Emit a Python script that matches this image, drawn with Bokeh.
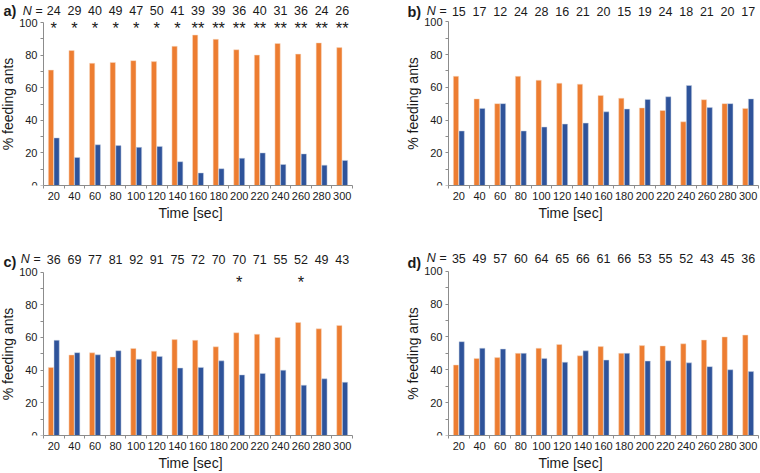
from bokeh.plotting import figure
from bokeh.models import ColumnDataSource, FixedTicker, Range1d
from bokeh.layouts import row, column
from bokeh.transform import dodge
from bokeh.core.properties import value
from bokeh.embed import file_html
from bokeh.resources import INLINE

# ---------------- data ----------------
times = [20, 40, 60, 80, 100, 120, 140, 160, 180, 200, 220, 240, 260, 280, 300]

a_n = [24, 29, 40, 49, 47, 50, 41, 39, 39, 36, 40, 31, 36, 24, 26]
a_orange = [70.8, 82.8, 75.0, 75.5, 76.6, 76.0, 85.4, 92.3, 89.7, 83.3, 80.0, 87.1, 80.6, 87.5, 84.6]
a_blue = [29.2, 17.2, 25.0, 24.5, 23.4, 24.0, 14.6, 7.7, 10.3, 16.7, 20.0, 12.9, 19.4, 12.5, 15.4]
a_stars = ["*", "*", "*", "*", "*", "*", "*", "**", "**", "**", "**", "**", "**", "**", "**"]

b_n = [15, 17, 12, 24, 28, 16, 21, 20, 15, 19, 24, 18, 21, 20, 17]
b_orange = [66.7, 52.9, 50.0, 66.7, 64.3, 62.5, 61.9, 55.0, 53.3, 47.4, 45.8, 38.9, 52.4, 50.0, 47.1]
b_blue = [33.3, 47.1, 50.0, 33.3, 35.7, 37.5, 38.1, 45.0, 46.7, 52.6, 54.2, 61.1, 47.6, 50.0, 52.9]
b_stars = [""] * 15

c_n = [36, 69, 77, 81, 92, 91, 75, 72, 70, 70, 71, 55, 52, 49, 43]
c_orange = [41.7, 49.3, 50.6, 48.1, 53.3, 51.6, 58.7, 58.3, 54.3, 62.9, 62.0, 60.0, 69.2, 65.3, 67.4]
c_blue = [58.3, 50.7, 49.4, 51.9, 46.7, 48.4, 41.3, 41.7, 45.7, 37.1, 38.0, 40.0, 30.8, 34.7, 32.6]
c_stars = ["", "", "", "", "", "", "", "", "", "*", "", "", "*", "", ""]

d_n = [35, 49, 57, 60, 64, 65, 66, 61, 66, 53, 55, 52, 43, 45, 36]
d_orange = [42.9, 46.9, 47.4, 50.0, 53.1, 55.4, 48.5, 54.1, 50.0, 54.7, 54.5, 55.8, 58.1, 60.0, 61.1]
d_blue = [57.1, 53.1, 52.6, 50.0, 46.9, 44.6, 51.5, 45.9, 50.0, 45.3, 45.5, 44.2, 41.9, 40.0, 38.9]
d_stars = [""] * 15

y_ticks = [0, 20, 40, 60, 80, 100]
y_minor = [10, 30, 50, 70, 90]

ORANGE = "#ED7D31"
BLUE = "#2E539A"
AXIS_C = "#8c8c8c"
TXT_C = "#1a1a1a"
FONT = "Liberation Sans"
STEP = 20


def panel(tag, n, orange, blue, stars, width, height, geo):
    # geo: pixel layout inside this figure (positions only)
    fl, fr = geo["frame_left"], geo["frame_right"]      # px of the 10 / 310 edges
    fb, p100 = geo["frame_bottom"], geo["y100"]        # px of value 0 and 100
    lo, hi = times[0] - STEP / 2, times[-1] + STEP / 2
    sx = (fr - fl) / (hi - lo)
    sy = (fb - p100) / 100.0
    x0 = lo - fl / sx
    x1 = hi + (width - fr) / sx
    y1 = fb / sy

    def dx(px):
        return x0 + px / sx

    def dy(py):
        return (fb - py) / sy

    src = ColumnDataSource(dict(t=times, orange=orange, blue=blue,
                                n=[str(v) for v in n], stars=stars,
                                ny=[dy(geo["n_row"])] * len(times),
                                sy=[dy(geo["star_row"])] * len(times)))

    p = figure(width=width, height=height, output_backend="svg",
               toolbar_location=None,
               x_range=Range1d(x0, x1), y_range=Range1d(0, y1),
               min_border_left=0, min_border_right=0,
               min_border_top=0, min_border_bottom=height - fb)
    p.outline_line_color = None
    p.xgrid.visible = False
    p.ygrid.visible = False

    p.vbar(x=dodge("t", -2.75), top="orange", width=5.1, source=src,
           fill_color=ORANGE, line_color="#f6dcc8", line_width=0.5)
    p.vbar(x=dodge("t", 2.75), top="blue", width=5.1, source=src,
           fill_color=BLUE, line_color="#c9d2e3", line_width=0.5)

    p.text(x="t", y="ny", text="n", source=src, text_align="center",
           text_baseline="middle", text_font=value(FONT),
           text_font_size=value("12.5px"), text_color=TXT_C)
    p.text(x="t", y="sy", text="stars", source=src, text_align="center",
           text_baseline="middle", text_font=value(FONT),
           text_font_size=value("16.5px"), text_color=TXT_C)
    # panel tag (bold) and "N =" (italic)
    p.text(x=[dx(geo["tag_x"])], y=[dy(geo["tag_y"])], text=[tag + ")"],
           text_align="left", text_baseline="middle", text_font=value(FONT),
           text_font_size=value("14.5px"), text_font_style="bold", text_color=TXT_C)
    p.text(x=[dx(geo["neq_x"])], y=[dy(geo["n_row"])], text=["N ="],
           text_align="right", text_baseline="middle", text_font=value(FONT),
           text_font_size=value("12.5px"), text_font_style="italic", text_color=TXT_C)

    xa = p.xaxis[0]
    xa.ticker = FixedTicker(ticks=times,
                            minor_ticks=[t - STEP / 2 for t in times] + [times[-1] + STEP / 2])
    xa.bounds = (lo, hi)
    xa.major_tick_out = 0
    xa.major_tick_in = 0
    xa.minor_tick_out = 3
    xa.minor_tick_in = 0
    xa.major_label_standoff = 3
    xa.axis_label = "Time [sec]"
    xa.axis_label_standoff = 2

    ya = p.yaxis[0]
    ya.fixed_location = lo
    ya.ticker = FixedTicker(ticks=y_ticks, minor_ticks=y_minor)
    ya.bounds = (0, 100)
    ya.major_tick_out = 3
    ya.major_tick_in = 0
    ya.minor_tick_out = 3
    ya.minor_tick_in = 0
    ya.major_label_standoff = 3
    ya.axis_label = "% feeding ants"
    ya.axis_label_standoff = 0

    for ax in (xa, ya):
        ax.axis_line_color = AXIS_C
        ax.major_tick_line_color = AXIS_C
        ax.minor_tick_line_color = AXIS_C
        ax.major_label_text_font = FONT
        ax.major_label_text_font_size = "11px"
        ax.major_label_text_color = TXT_C
        ax.axis_label_text_font = FONT
        ax.axis_label_text_font_style = "normal"
        ax.axis_label_text_color = TXT_C
    xa.axis_label_text_font_size = "14px"
    ya.axis_label_text_font_size = "14px"
    return p


geo_a = dict(frame_left=43, frame_right=352, frame_bottom=185, y100=22,
             n_row=10, star_row=27.7, tag_x=3, tag_y=10.5, neq_x=42)
geo_b = dict(frame_left=68, frame_right=378, frame_bottom=187, y100=21.5,
             n_row=11, star_row=-50, tag_x=27, tag_y=11.5, neq_x=66)
geo_c = dict(frame_left=43, frame_right=352, frame_bottom=201, y100=36,
             n_row=23, star_row=45.5, tag_x=3, tag_y=26, neq_x=40)
geo_d = dict(frame_left=68, frame_right=378, frame_bottom=201, y100=35,
             n_row=22, star_row=-50, tag_x=27, tag_y=27, neq_x=66)

pa = panel("a", a_n, a_orange, a_blue, a_stars, 380, 236, geo_a)
pb = panel("b", b_n, b_orange, b_blue, b_stars, 380, 236, geo_b)
pc = panel("c", c_n, c_orange, c_blue, c_stars, 380, 237, geo_c)
pd = panel("d", d_n, d_orange, d_blue, d_stars, 380, 237, geo_d)

layout = column(row(pa, pb), row(pc, pd))
open("out.html", "w").write(file_html(layout, INLINE))
